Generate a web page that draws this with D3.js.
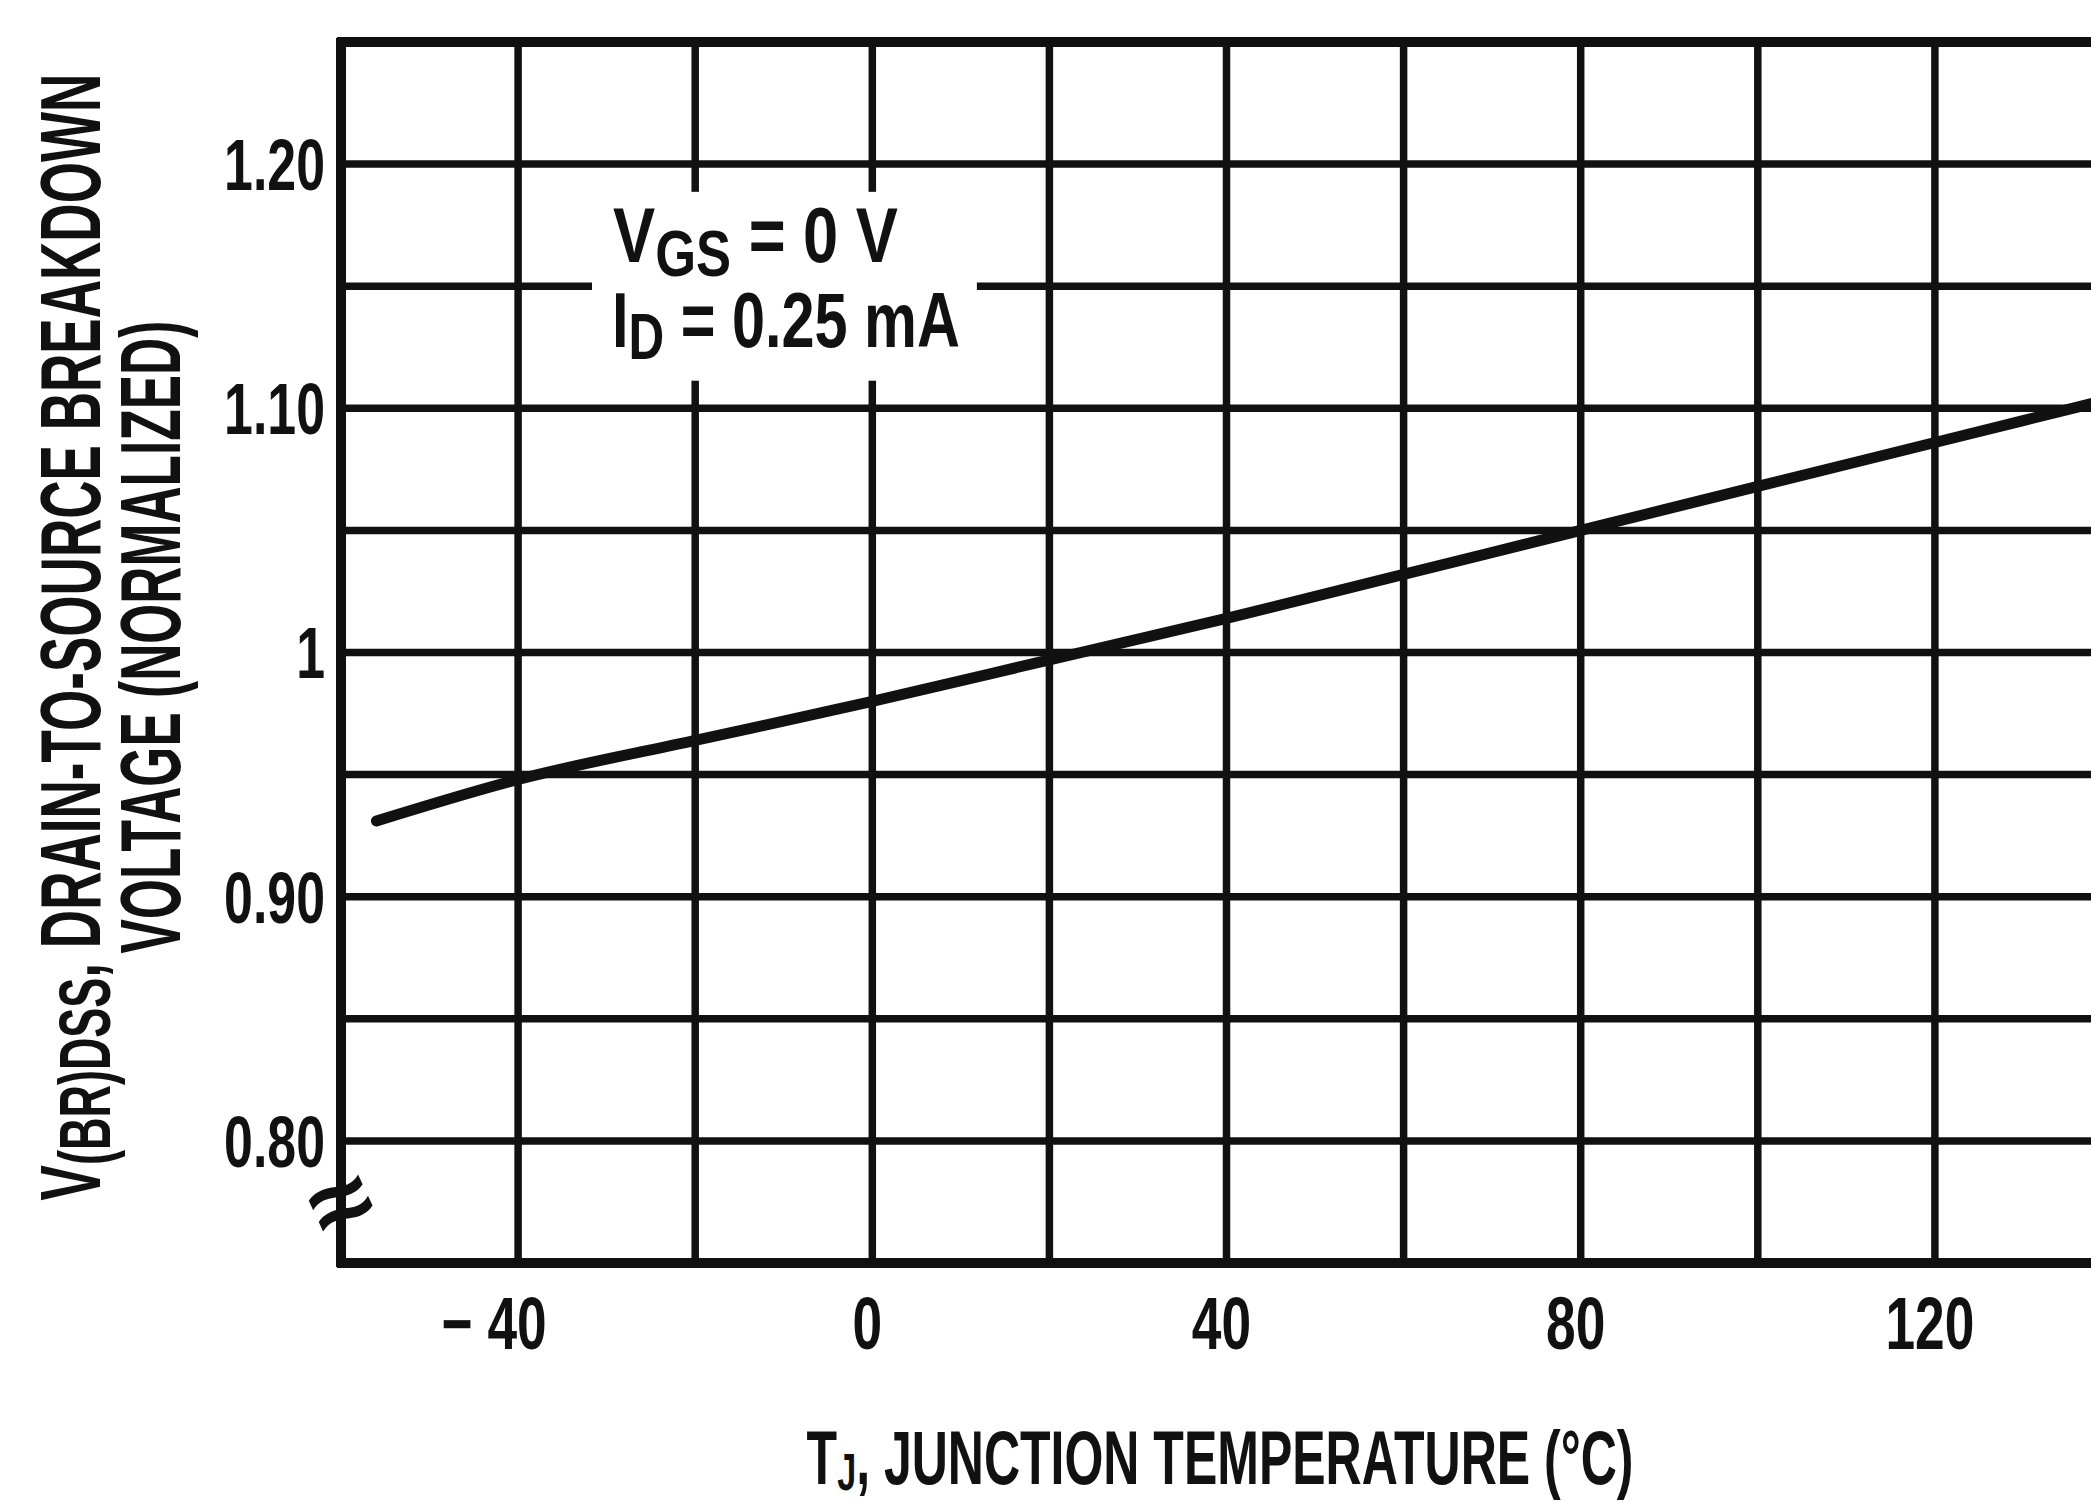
<!DOCTYPE html>
<html>
<head>
<meta charset="utf-8">
<script src="https://cdn.jsdelivr.net/npm/d3@7"></script>
<style>
  html, body { margin: 0; padding: 0; background: #fff; }
  svg { display: block; }
  text { font-family: "Liberation Sans", Arial, sans-serif; font-weight: bold; fill: #111; }
</style>
</head>
<body>
<svg id="chart" width="2091" height="1504"></svg>
<script>
// ---- data ----
const xGridTicks = [-60, -40, -20, 0, 20, 40, 60, 80, 100, 120, 140];
const xLabelTicks = [-40, 0, 40, 80, 120];
const xLabelText = ["\u2212 40", "0", "40", "80", "120"];
const yGridTicks = [0.75, 0.80, 0.85, 0.90, 0.95, 1.00, 1.05, 1.10, 1.15, 1.20, 1.25];
const yLabelTicks = [0.80, 0.90, 1.00, 1.10, 1.20];
const yLabelText = ["0.80", "0.90", "1", "1.10", "1.20"];
const tempC = [-56, -40, -20, 0, 20, 40, 60, 80, 100, 120, 140];
const bvdssNorm = [0.931, 0.948, 0.964, 0.980, 0.997, 1.014, 1.032, 1.050, 1.068, 1.086, 1.104];

// ---- layout ----
const W = 2091, H = 1504;
const plot = { left: 341, right: 2112, top: 42, bottom: 1263 };
const condense = 0.72;

const svg = d3.select("#chart");
svg.append("rect").attr("width", W).attr("height", H).attr("fill", "#fff");

const x = d3.scaleLinear().domain([-60, 140]).range([plot.left, plot.right]);
const y = d3.scaleLinear().domain([0.75, 1.25]).range([plot.bottom, plot.top]);

const g = svg.append("g");

// condense a text to a target width via a horizontal scale (anchor kept at origin)
function fitWidth(sel, target, prefix) {
  const w = sel.node().getBBox().width;
  const k = target / w;
  sel.attr("transform", `${prefix} scale(${k},1)`);
}

// gridlines
g.append("g").selectAll("line").data(xGridTicks).join("line")
  .attr("x1", d => x(d)).attr("x2", d => x(d))
  .attr("y1", y(1.25) - 4).attr("y2", y(0.75) + 4)
  .attr("stroke", "#111").attr("stroke-width", d => d === -60 ? 10 : 7.5);

g.append("g").selectAll("line").data(yGridTicks).join("line")
  .attr("x1", x(-60) - 4).attr("x2", x(140))
  .attr("y1", d => y(d)).attr("y2", d => y(d))
  .attr("stroke", "#111").attr("stroke-width", d => (d === 0.75 || d === 1.25) ? 10 : 7.5);

// curve
const line = d3.line().x((d, i) => x(tempC[i])).y(d => y(d)).curve(d3.curveMonotoneX);
g.append("path").datum(bvdssNorm).attr("d", line)
  .attr("fill", "none").attr("stroke", "#111").attr("stroke-width", 11).attr("stroke-linecap", "round");

// annotation with white background
const ann = g.append("g");
const t1 = ann.append("text").attr("font-size", 77);
t1.append("tspan").text("V");
t1.append("tspan").attr("font-size", 64).attr("dy", 14).text("GS");
t1.append("tspan").attr("dy", -14).text(" = 0 V");
fitWidth(t1, 285, `translate(613,${y(1.160)})`);
const t2 = ann.append("text").attr("font-size", 77);
t2.append("tspan").text("I");
t2.append("tspan").attr("font-size", 64).attr("dy", 12).text("D");
t2.append("tspan").attr("dy", -12).text(" = 0.25 mA");
fitWidth(t2, 348, `translate(612,${y(1.125)})`);
const bb = ann.node().getBBox();
ann.insert("rect", ":first-child")
  .attr("x", bb.x - 20).attr("y", bb.y)
  .attr("width", bb.width + 37).attr("height", bb.height + 8)
  .attr("fill", "#fff");

// break mark on y axis
g.append("text").attr("transform", `translate(${x(-60)},${y(0.7742)}) rotate(-25) scale(1.1,1)`)
  .attr("text-anchor", "middle").attr("dy", "0.32em").attr("font-size", 100).text("\u2248");

// y tick labels (condensed)
g.append("g").selectAll("text").data(yLabelTicks).join("text")
  .attr("transform", d => `translate(${x(-60) - 16},${y(d)}) scale(${condense},1)`)
  .attr("dy", "0.36em")
  .attr("text-anchor", "end").attr("font-size", 72)
  .text((d, i) => yLabelText[i]);

// x tick labels (condensed)
g.append("g").selectAll("text").data(xLabelTicks).join("text")
  .attr("transform", d => `translate(${x(d) + (d < 0 ? -24 : -5)},${y(0.75) + 86}) scale(${condense},1)`)
  .attr("text-anchor", "middle").attr("font-size", 74)
  .text((d, i) => xLabelText[i]);

// x axis title
const xt = g.append("text").attr("text-anchor", "middle").attr("font-size", 76);
xt.append("tspan").text("T");
xt.append("tspan").attr("font-size", 52).attr("dy", 6).text("J");
xt.append("tspan").attr("dy", -6).text(", JUNCTION TEMPERATURE (\u00B0C)");
fitWidth(xt, 827, "translate(1220,1484)");

// y axis title (two lines)
const yt1 = g.append("text").attr("text-anchor", "middle").attr("font-size", 85);
yt1.append("tspan").text("V");
yt1.append("tspan").attr("font-size", 72).attr("dy", 10).text("(BR)DSS");
yt1.append("tspan").attr("dy", -10).text(", DRAIN-TO-SOURCE BREAKDOWN");
fitWidth(yt1, 1127, "translate(100,637) rotate(-90)");

const yt2 = g.append("text").attr("text-anchor", "middle").attr("font-size", 85)
  .text("VOLTAGE (NORMALIZED)");
fitWidth(yt2, 633, "translate(180,637) rotate(-90)");
</script>
</body>
</html>
